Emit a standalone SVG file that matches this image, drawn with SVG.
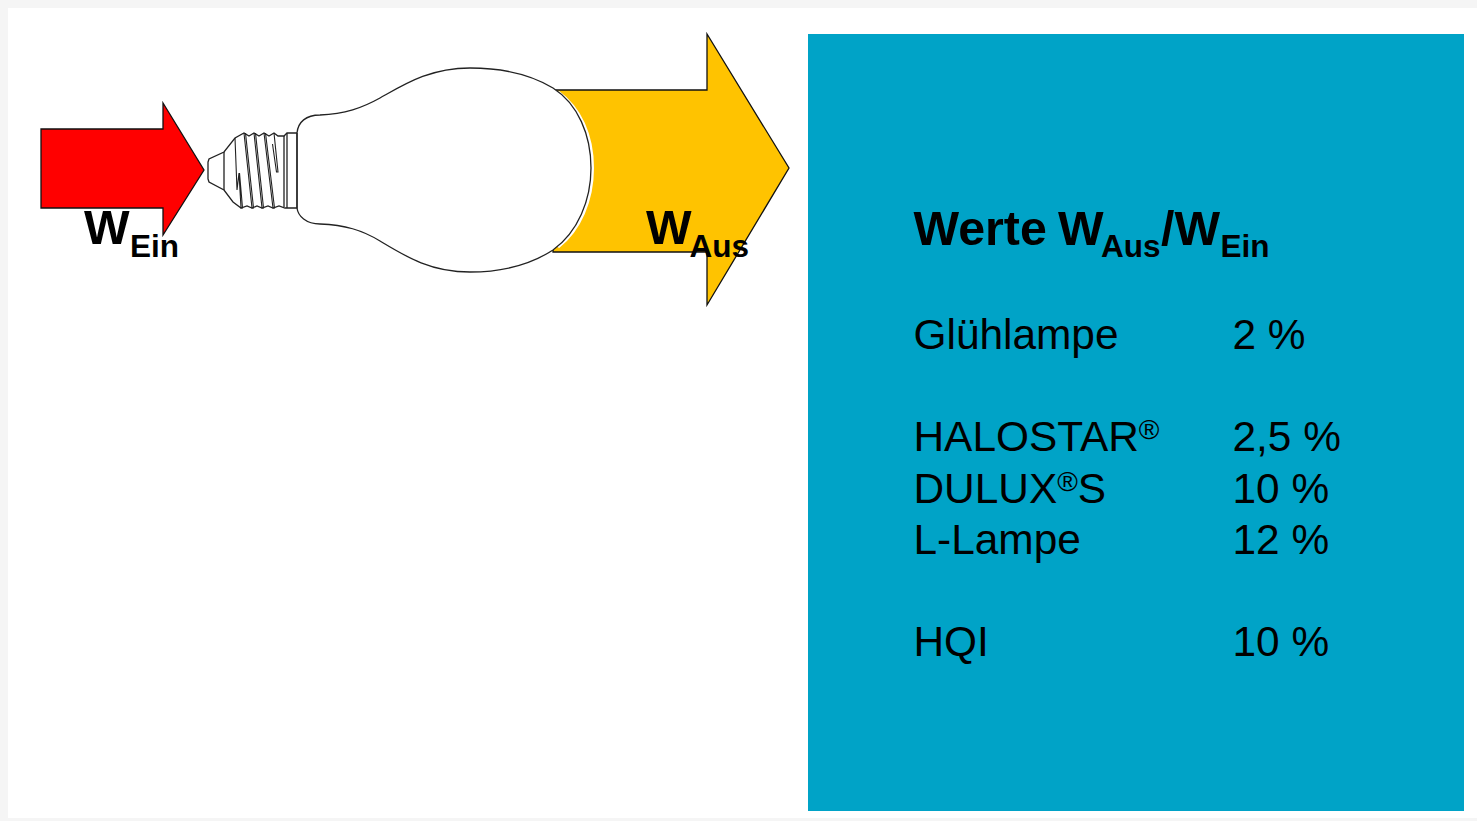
<svg xmlns="http://www.w3.org/2000/svg" width="1477" height="821" viewBox="0 0 1477 821">
<style>
.ln{fill:none;stroke:#222;stroke-width:1.3}
.th{fill:none;stroke:#222;stroke-width:1.1}
.ar{stroke:#111;stroke-width:1.3;stroke-linejoin:miter}
text{font-family:"Liberation Sans",Arial,sans-serif;fill:#000}
.b{font-weight:700;font-size:48.3px}
.s{font-weight:700;font-size:31.5px}
.r{font-size:42.4px}
.m{font-size:28px}
</style>
<rect width="1477" height="821" fill="#f5f5f5"/>
<rect x="8" y="8" width="1469" height="810" fill="#fff"/>
<rect id="panel" x="808" y="34" width="656" height="777" fill="#00a3c7"/>
<g id="arrows">
<path id="arrow-ein" class="ar" fill="#ff0000" d="M41 129H163V103L204 170L163 235V208H41Z"/>
<path id="arrow-aus" class="ar" fill="#ffc300" d="M553 90H707V34L789 168L707 305V252H553Z"/>
</g>
<g id="lamp">
<path id="bulb" fill="#fff" stroke="none" d="M297 133C298 122 306 115 320 115C345 114 362 108 380 98C405 84 430 68 470 68C505 68 533 76 553 88C578 104 591 135 591 168C591 200 578 232 553 250C533 263 505 272 470 272C430 272 405 256 380 241C362 230 345 225 320 224C306 224 298 216 297 208Z"/>
<path id="bulb-halo" fill="none" stroke="#fff" stroke-width="3" d="M558 92C580 108 592.500 135 592.500 168C592.500 200 580 230 558 247"/>
<path id="bulb-line" class="ln" d="M297 133C298 122 306 115 320 115C345 114 362 108 380 98C405 84 430 68 470 68C505 68 533 76 553 88C578 104 591 135 591 168C591 200 578 232 553 250C533 263 505 272 470 272C430 272 405 256 380 241C362 230 345 225 320 224C306 224 298 216 297 208Z"/>
<path id="cap" class="ln" d="M297 133H287L284 136L278 136L274 133L269 136L264 133L259 136L254 133L249 136L244 133L235 138L224 152L209 159L208 162V179L209 182L224 190L233 202L241 208L247 206L252 208L257 206L262 208L268 206L273 208L279 206L285 208H297V133"/>
<path class="ln" d="M287 133V208M284 136V207M224 152V190"/>
<path id="thread" class="th" d="M244 133L252 208L253.500 208L245.500 133M254 133L262 208L263.500 208L255.500 133M264 133L273 208L274.500 208L265.500 133M274 133L278 172L276.500 172L272.500 144M235 138L237 190L239 173L241 208L242.500 208L239.500 173"/>
</g>
<g id="label-ein"><text class="b" x="84" y="244">W</text><text class="s" x="130" y="257">Ein</text></g>
<g id="label-aus"><text class="b" x="646" y="244">W</text><text class="s" x="689.500" y="257">Aus</text></g>
<g id="panel-text">
<text class="b" x="913.500" y="245">Werte</text>
<text class="b" x="1058" y="245">W</text><text class="s" x="1101" y="257">Aus</text>
<text class="b" x="1161" y="245">/W</text><text class="s" x="1220.500" y="257">Ein</text>
<text class="r" x="913.500" y="349">Glühlampe</text><text class="r" x="1232.500" y="349">2 %</text>
<text class="r" x="913.500" y="451">HALOSTAR<tspan class="m" dy="-12">®</tspan></text><text class="r" x="1232.500" y="451">2,5 %</text>
<text class="r" x="913.500" y="503">DULUX<tspan class="m" dy="-12">®</tspan><tspan dy="12">S</tspan></text><text class="r" x="1232.500" y="503">10 %</text>
<text class="r" x="913.500" y="554">L-Lampe</text><text class="r" x="1232.500" y="554">12 %</text>
<text class="r" x="913.500" y="656">HQI</text><text class="r" x="1232.500" y="656">10 %</text>
</g>
</svg>
